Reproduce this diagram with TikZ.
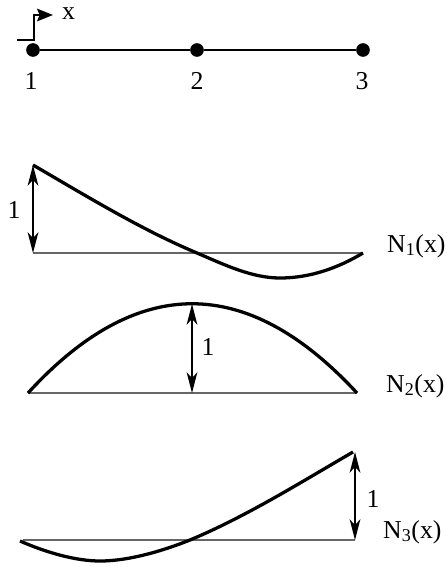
\documentclass[tikz,border=0pt]{standalone}
\usepackage{fontspec}
\setmainfont{Liberation Serif}
\usetikzlibrary{arrows.meta}
\begin{document}
\begin{tikzpicture}[x=0.3mm,y=-0.3mm,
  dot/.style={circle,fill=black,inner sep=0pt,minimum size=4.1mm},
  lbl/.style={font=\fontsize{22}{26}\selectfont,inner sep=0pt},
  curve/.style={line width=2.8pt,black,line join=round},
  base/.style={line width=1.8pt,black!60},
  axisline/.style={line width=1.7pt,black},
  dimtip/.tip={Stealth[length=6.2mm,width=3.2mm,inset=1.7mm]},
  dim/.style={line width=1.5pt,dimtip-dimtip}]
\useasboundingbox (0,0) rectangle (447,567);

% ---- top: element with three nodes
\node[dot] (n1) at (33,50) {};
\node[dot] (n2) at (197,50) {};
\node[dot] (n3) at (363,50) {};
\draw[axisline] (n1) -- (n2) -- (n3);
\node[lbl] (t1) at (31,81) {1};
\node[lbl] (t2) at (197,81) {2};
\node[lbl] (t3) at (362,81) {3};
\coordinate (ax0) at (17,40);
\coordinate (ax1) at (34,40);
\coordinate (ax2) at (53,15);
\draw[line width=1.5pt,-{Stealth[length=4.8mm,width=3.8mm,inset=0.8mm]}] (ax0) -- (ax1) |- (ax2);
\node[lbl,anchor=west] (xl) at (62,14) {x};

% ---- N1
\coordinate (a1) at (33,253);
\coordinate (a2) at (363,253);
\coordinate (a1t) at (33,165);
\coordinate (a0) at (197,253);
\coordinate (am) at (280,278);
\draw[base] (a1) -- (a2);
\draw[curve] (a1t) .. controls (88,197) and (142,230) .. (a0)
  .. controls (225,265) and (252,278) .. (am)
  .. controls (310,278) and (338,268) .. (a2);
\draw[dim] (a1t) -- (a1);
\node[lbl] (l1) at (14,210) {1};
\node[lbl,anchor=west] (N1) at (387,246) {N\textsubscript{1}(x)};

% ---- N2
\coordinate (b1) at (28,393);
\coordinate (b2) at (357,393);
\coordinate (bp) at (192,304);
\coordinate (bb) at (192,393);
\draw[base] (b1) -- (b2);
\draw[curve] (b1) .. controls (137,274) and (247,274) .. (b2);
\draw[dim] (bp) -- (bb);
\node[lbl] (l2) at (208,347) {1};
\node[lbl,anchor=west] (N2) at (386,386) {N\textsubscript{2}(x)};

% ---- N3
\coordinate (c1) at (23,540);
\coordinate (c2) at (355,540);
\coordinate (ct) at (355,452);
\coordinate (cs) at (20,541);
\coordinate (cm) at (100,561);
\coordinate (c0) at (190,540);
\coordinate (ce) at (353,452);
\draw[base] (c1) -- (c2);
\draw[curve] (cs) .. controls (45,552) and (75,561) .. (cm)
  .. controls (130,561) and (165,550) .. (c0)
  .. controls (245,517) and (298,484) .. (ce);
\draw[dim] (ct) -- (c2);
\node[lbl] (l3) at (373,499) {1};
\node[lbl,anchor=west] (N3) at (383,532) {N\textsubscript{3}(x)};
\end{tikzpicture}
\end{document}
